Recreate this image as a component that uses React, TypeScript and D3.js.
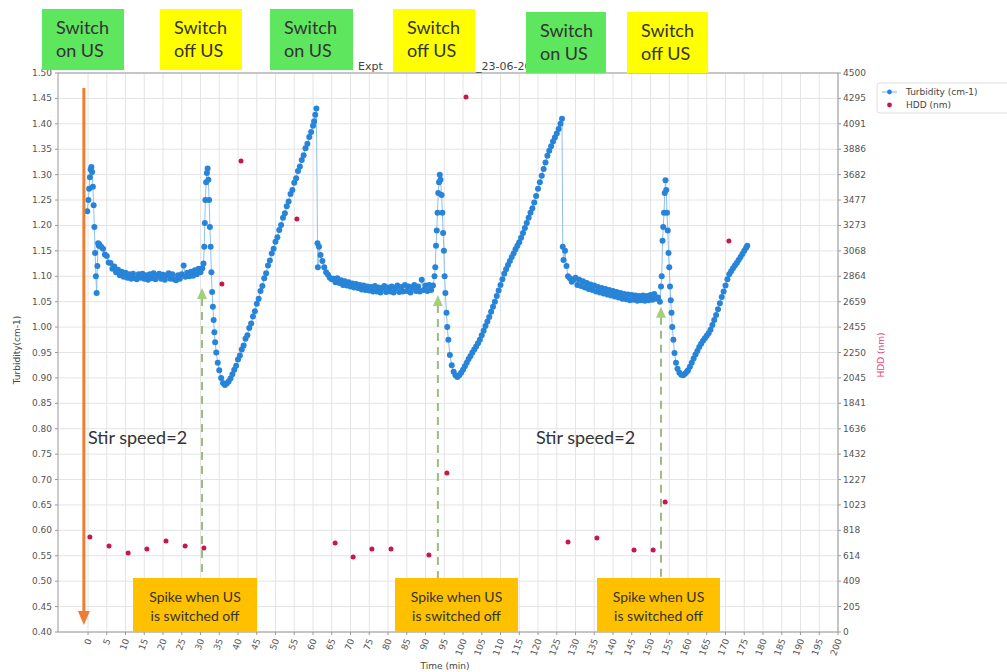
import React from 'react'
import * as d3 from 'd3'

const W = 1007
const H = 672

// Turbidity (cm-1) as [time (min), value]
const cycle1: [number, number][] = [
  [-0.2, 1.228], [0.1, 1.25], [0.3, 1.272], [0.5, 1.295], [0.7, 1.31], [0.9, 1.315], [1.1, 1.305],
  [1.3, 1.276], [1.5, 1.24], [1.7, 1.197], [1.9, 1.146], [2.1, 1.1], [2.3, 1.067], [2.5, 1.12],
  [2.7, 1.165], [2.9, 1.16],
  [3.0, 1.163], [3.5, 1.158], [4.0, 1.154], [4.5, 1.143], [5.0, 1.14], [5.5, 1.127], [6.0, 1.126],
  [6.5, 1.115], [7.0, 1.119], [7.5, 1.108], [8.0, 1.113], [8.5, 1.102], [9.0, 1.109], [9.5, 1.099],
  [10.0, 1.107], [10.5, 1.097], [11.0, 1.104], [11.5, 1.095], [12.0, 1.105], [12.5, 1.096], [13.0, 1.094],
  [13.5, 1.104], [14.0, 1.097], [14.5, 1.105], [15.0, 1.095], [15.5, 1.102], [16.0, 1.093], [16.5, 1.104],
  [17.0, 1.096], [17.5, 1.106], [18.0, 1.094], [18.5, 1.102], [19.0, 1.105], [19.5, 1.095], [20.0, 1.103],
  [20.5, 1.093], [21.0, 1.102], [21.5, 1.106], [22.0, 1.095], [22.5, 1.104], [23.0, 1.094], [23.5, 1.092],
  [24.0, 1.102], [24.5, 1.095], [25.0, 1.104], [25.5, 1.121], [26.0, 1.099], [26.5, 1.107], [27.0, 1.1],
  [27.5, 1.109], [28.0, 1.101], [28.5, 1.112], [29.0, 1.104], [29.5, 1.115], [30.0, 1.108], [30.5, 1.116],
  [30.8, 1.125], [31.0, 1.158], [31.15, 1.205], [31.3, 1.25], [31.5, 1.285], [31.7, 1.303], [31.9, 1.312],
  [32.1, 1.29], [32.3, 1.25], [32.5, 1.197], [32.7, 1.158], [32.9, 1.108], [33.1, 1.069], [33.3, 1.04],
  [33.5, 1.014], [33.7, 0.99], [33.9, 0.97], [34.2, 0.95], [34.6, 0.93], [35.0, 0.915], [35.5, 0.9],
  [36.0, 0.89], [36.5, 0.886],
  [37, 0.889], [37.5, 0.893], [38, 0.899], [38.5, 0.907], [39, 0.916], [39.5, 0.924], [40, 0.936],
  [40.5, 0.944], [41, 0.956], [41.5, 0.964], [42, 0.977], [42.5, 0.984], [43, 0.998], [43.5, 1.007],
  [44, 1.021], [44.5, 1.031], [45, 1.046], [45.5, 1.056], [46, 1.071], [46.5, 1.081], [47, 1.096],
  [47.5, 1.106], [48, 1.121], [48.5, 1.131], [49, 1.145], [49.5, 1.154], [50, 1.168], [50.5, 1.177],
  [51, 1.191], [51.5, 1.201], [52, 1.215], [52.5, 1.224], [53, 1.238], [53.5, 1.247], [54, 1.262],
  [54.5, 1.27], [55, 1.284], [55.5, 1.293], [56, 1.307], [56.5, 1.316], [57, 1.329], [57.5, 1.338],
  [58, 1.352], [58.5, 1.361], [59, 1.374], [59.5, 1.384], [60, 1.396], [60.3, 1.405], [60.6, 1.418],
  [60.9, 1.43],
]

const cycle2: [number, number][] = [
  [61.2, 1.165], [61.3, 1.118], [61.6, 1.158], [62.0, 1.142], [62.5, 1.13], [63.0, 1.118], [63.5, 1.108],
  [64.0, 1.103], [64.5, 1.097], [65.0, 1.094],
  [65.5, 1.095], [66, 1.088], [66.5, 1.096], [67, 1.087], [67.5, 1.092], [68, 1.083], [68.5, 1.09],
  [69, 1.082], [69.5, 1.088], [70, 1.08], [70.5, 1.086], [71, 1.078], [71.5, 1.085], [72, 1.077],
  [72.5, 1.083], [73, 1.074], [73.5, 1.082], [74, 1.073], [74.5, 1.08], [75, 1.072], [75.5, 1.079],
  [76, 1.07], [76.5, 1.081], [77, 1.07], [77.5, 1.078], [78, 1.068], [78.5, 1.077], [79, 1.081],
  [79.5, 1.069], [80, 1.078], [80.5, 1.07], [81, 1.08], [81.5, 1.068], [82, 1.077], [82.5, 1.082],
  [83, 1.069], [83.5, 1.079], [84, 1.07], [84.5, 1.083], [85, 1.071], [85.5, 1.08], [86, 1.068],
  [86.5, 1.078], [87, 1.083], [87.5, 1.071], [88, 1.08], [88.5, 1.07], [89, 1.093], [89.5, 1.073],
  [90, 1.082], [90.5, 1.071], [91, 1.083], [91.5, 1.073], [92, 1.082],
  [92.4, 1.1], [92.6, 1.118], [92.8, 1.16], [93.0, 1.19], [93.2, 1.225], [93.4, 1.264], [93.6, 1.285],
  [93.8, 1.3], [94.0, 1.29], [94.3, 1.26], [94.5, 1.225], [94.7, 1.185], [94.9, 1.15], [95.1, 1.1],
  [95.3, 1.067], [95.6, 1.028], [95.8, 1.0], [96.1, 0.975], [96.5, 0.945], [97.0, 0.925], [97.5, 0.912],
  [98.0, 0.905],
  [98.5, 0.902], [99, 0.905], [99.5, 0.91], [100, 0.916], [100.5, 0.923], [101, 0.93], [101.5, 0.937],
  [102, 0.943], [102.5, 0.95], [103, 0.956], [103.5, 0.962], [104, 0.968], [104.5, 0.975], [105, 0.984],
  [105.5, 0.993], [106, 1.002], [106.5, 1.011], [107, 1.02], [107.5, 1.03], [108, 1.04], [108.5, 1.05],
  [109, 1.061], [109.5, 1.072], [110, 1.083], [110.5, 1.094], [111, 1.105], [111.5, 1.114], [112, 1.122],
  [112.5, 1.13], [113, 1.138], [113.5, 1.145], [114, 1.153], [114.5, 1.16], [115, 1.167], [115.5, 1.176],
  [116, 1.185], [116.5, 1.195], [117, 1.205], [117.5, 1.215], [118, 1.225], [118.5, 1.234], [119, 1.245],
  [119.5, 1.258], [120, 1.272], [120.5, 1.285], [121, 1.298], [121.5, 1.311], [122, 1.324], [122.5, 1.337],
  [123, 1.347], [123.5, 1.356], [124, 1.365], [124.5, 1.373], [125, 1.381], [125.5, 1.39], [126, 1.4],
  [126.4, 1.41],
]

const cycle3: [number, number][] = [
  [126.6, 1.158], [126.8, 1.132], [127.2, 1.15], [127.6, 1.12], [128, 1.1], [128.5, 1.096], [129, 1.089],
  [129.5, 1.093], [130, 1.097], [130.5, 1.083], [131, 1.093], [131.5, 1.081], [132, 1.09], [132.5, 1.078],
  [133, 1.087], [133.5, 1.075], [134, 1.084], [134.5, 1.073], [135, 1.082], [135.5, 1.07], [136, 1.079],
  [136.5, 1.068], [137, 1.077], [137.5, 1.066], [138, 1.075], [138.5, 1.064], [139, 1.073], [139.5, 1.062],
  [140, 1.071], [140.5, 1.06], [141, 1.069], [141.5, 1.058], [142, 1.067], [142.5, 1.056], [143, 1.065],
  [143.5, 1.055], [144, 1.064], [144.5, 1.053], [145, 1.063], [145.5, 1.054], [146, 1.062], [146.5, 1.052],
  [147, 1.061], [147.5, 1.053], [148, 1.062], [148.5, 1.052], [149, 1.061], [149.5, 1.053], [150, 1.063],
  [150.5, 1.054], [151, 1.065], [151.5, 1.056], [152, 1.058], [152.5, 1.05],
  [152.8, 1.08], [153.0, 1.1], [153.2, 1.17], [153.4, 1.197], [153.6, 1.225], [153.8, 1.264], [154.0, 1.289],
  [154.2, 1.27], [154.4, 1.225], [154.6, 1.19], [154.8, 1.146], [155.0, 1.118], [155.2, 1.08], [155.4, 1.053],
  [155.6, 1.028], [155.8, 1.0], [156.1, 0.975], [156.4, 0.949], [156.8, 0.93], [157.2, 0.918], [157.7, 0.91],
  [158.2, 0.906], [158.7, 0.905], [159.2, 0.908], [159.7, 0.912],
  [160, 0.915], [160.5, 0.922], [161, 0.93], [161.5, 0.938], [162, 0.946], [162.5, 0.953], [163, 0.961],
  [163.5, 0.967], [164, 0.973], [164.5, 0.978], [165, 0.983], [165.5, 0.988], [166, 0.995], [166.5, 1.004],
  [167, 1.014], [167.5, 1.024], [168, 1.035], [168.5, 1.047], [169, 1.059], [169.5, 1.07], [170, 1.082],
  [170.5, 1.094], [171, 1.104], [171.5, 1.11], [172, 1.116], [172.5, 1.121], [173, 1.126], [173.5, 1.132],
  [174, 1.138], [174.5, 1.144], [175, 1.15], [175.5, 1.156], [175.8, 1.16],
]

// HDD (nm)
const hddTime = [0.5, 5.6, 10.7, 15.7, 20.8, 25.9, 30.9, 35.7, 40.8, 55.7, 65.9, 70.7, 75.7, 80.8, 90.9, 95.7, 100.8, 128.0, 135.7, 145.6, 150.7, 153.9, 170.9]
const hddValue = [765, 692, 636, 668, 733, 692, 676, 2801, 3792, 3325, 717, 604, 668, 668, 620, 1280, 4307, 724, 757, 660, 660, 1046, 3148]

const turbTicks = [0.4, 0.45, 0.5, 0.55, 0.6, 0.65, 0.7, 0.75, 0.8, 0.85, 0.9, 0.95, 1.0, 1.05, 1.1, 1.15, 1.2, 1.25, 1.3, 1.35, 1.4, 1.45, 1.5]
const hddTickLabels = ['0', '205', '409', '614', '818', '1023', '1227', '1432', '1636', '1841', '2045', '2250', '2455', '2659', '2864', '3068', '3273', '3477', '3682', '3886', '4091', '4295', '4500']
const timeTicks = [0, 5, 10, 15, 20, 25, 30, 35, 40, 45, 50, 55, 60, 65, 70, 75, 80, 85, 90, 95, 100, 105, 110, 115, 120, 125, 130, 135, 140, 145, 150, 155, 160, 165, 170, 175, 180, 185, 190, 195, 200]

// annotations
const switchTimes = [30.4, 93.3, 152.8]
const switchTips = [1.077, 1.063, 1.04]
const topNotes = [
  { x0: 42, x1: 124, y0: 9, y1: 70, fill: '#5ee65e', lines: ['Switch', 'on US'] },
  { x0: 160, x1: 242, y0: 9, y1: 70, fill: '#ffff00', lines: ['Switch', 'off US'] },
  { x0: 270, x1: 353, y0: 9, y1: 70, fill: '#5ee65e', lines: ['Switch', 'on US'] },
  { x0: 393, x1: 475, y0: 9, y1: 72, fill: '#ffff00', lines: ['Switch', 'off US'] },
  { x0: 526, x1: 606, y0: 12, y1: 73, fill: '#5ee65e', lines: ['Switch', 'on US'] },
  { x0: 627, x1: 708, y0: 12, y1: 73, fill: '#ffff00', lines: ['Switch', 'off US'] },
]
const spikeNotes = [
  { x0: 133, x1: 257 },
  { x0: 395, x1: 518 },
  { x0: 597, x1: 720 },
]

const BLUE = '#2784d8'
const RED = '#c8174a'
const GRID = '#e4e4e4'
const AXIS = '#9a9a9a'
const TICKFONT = 'DejaVu Sans, sans-serif'
const NOTEFONT = 'Lato, sans-serif'

export default function App() {
  const left = 58
  const right = 838
  const top = 73
  const bottom = 632

  const x = d3.scaleLinear().domain([-8, 200]).range([left, right])
  const yL = d3.scaleLinear().domain([0.4, 1.5]).range([bottom, top])
  const yR = d3.scaleLinear().domain([0, 4500]).range([bottom, top])

  const turb = [...cycle1, ...cycle2, ...cycle3]
  const line = d3.line<[number, number]>().x(d => x(d[0])).y(d => yL(d[1]))

  const orangeX = x(-1.1)

  return (
    <svg width={W} height={H} style={{ position: 'absolute', left: 0, top: 0, background: '#fff' }}>
      <rect width={W} height={H} fill="#fff" />

      {/* grid */}
      {timeTicks.map(t => (
        <line key={'gx' + t} x1={x(t)} x2={x(t)} y1={top} y2={bottom} stroke={GRID} strokeWidth={1} />
      ))}
      {turbTicks.map(v => (
        <line key={'gy' + v} x1={left} x2={right} y1={yL(v)} y2={yL(v)} stroke={GRID} strokeWidth={1} />
      ))}

      {/* spines */}
      <rect x={left} y={top} width={right - left} height={bottom - top} fill="none" stroke={AXIS} strokeWidth={1} />

      {/* left axis */}
      {turbTicks.map(v => (
        <g key={'ly' + v}>
          <line x1={left - 3} x2={left} y1={yL(v)} y2={yL(v)} stroke={AXIS} />
          <text x={left - 6} y={yL(v) + 3} textAnchor="end" fontSize={9} fontFamily={TICKFONT} fill="#555">{v.toFixed(2)}</text>
        </g>
      ))}
      {/* right axis */}
      {hddTickLabels.map((lab, i) => {
        const yy = yR((4500 / 22) * i)
        return (
          <g key={'ry' + i}>
            <line x1={right} x2={right + 3} y1={yy} y2={yy} stroke={AXIS} />
            <text x={right + 5} y={yy + 3} fontSize={9} fontFamily={TICKFONT} fill="#555">{lab}</text>
          </g>
        )
      })}
      {/* bottom axis */}
      {timeTicks.map(t => (
        <g key={'bx' + t}>
          <line x1={x(t)} x2={x(t)} y1={bottom} y2={bottom + 3} stroke={AXIS} />
          <text transform={`translate(${x(t) + 4},${bottom + 8}) rotate(-70)`} textAnchor="end" fontSize={9} fontFamily={TICKFONT} fill="#555">{t}</text>
        </g>
      ))}

      {/* axis labels and title */}
      <text transform={`translate(20,350) rotate(-90)`} textAnchor="middle" fontSize={9} fontFamily={TICKFONT} fill="#444">Turbidity(cm-1)</text>
      <text transform={`translate(884,355) rotate(-90)`} textAnchor="middle" fontSize={9} fontFamily={TICKFONT} fill="#e0457a">HDD (nm)</text>
      <text x={445} y={669} textAnchor="middle" fontSize={9} fontFamily={TICKFONT} fill="#444">Time (min)</text>
      <text x={358} y={70} fontSize={11} fontFamily={TICKFONT} fill="#444">Expt</text>
      <text x={476} y={70} fontSize={11} fontFamily={TICKFONT} fill="#444">_23-06-2023</text>

      {/* turbidity series */}
      <path d={line(turb) || ''} fill="none" stroke="#8ec0ee" strokeWidth={1} />
      {turb.map((d, i) => (
        <circle key={'t' + i} cx={x(d[0])} cy={yL(d[1])} r={3} fill={BLUE} />
      ))}

      {/* HDD series */}
      {hddTime.map((t, i) => (
        <circle key={'h' + i} cx={x(t)} cy={yR(hddValue[i])} r={2.5} fill={RED} />
      ))}

      {/* orange arrow */}
      <line x1={orangeX} x2={orangeX} y1={88} y2={612} stroke="#ed7d31" strokeWidth={3} />
      <path d={`M${orangeX - 6},${611} L${orangeX + 6},${611} L${orangeX},${625} Z`} fill="#ed7d31" />

      {/* green dashed arrows */}
      {switchTimes.map((t, i) => {
        const ax = x(t)
        const tip = yL(switchTips[i])
        return (
          <g key={'ga' + i}>
            <line x1={ax} x2={ax} y1={tip + 10} y2={bottom} stroke="#9dbb83" strokeWidth={2} strokeDasharray="8,6" />
            <path d={`M${ax - 5},${tip + 11} L${ax + 5},${tip + 11} L${ax},${tip} Z`} fill="#a4d07a" />
          </g>
        )
      })}

      {/* Stir speed notes */}
      <text x={88} y={444} fontSize={18} fontFamily={NOTEFONT} fill="#333">Stir speed=2</text>
      <text x={536} y={444} fontSize={18} fontFamily={NOTEFONT} fill="#333">Stir speed=2</text>

      {/* spike notes */}
      {spikeNotes.map((n, i) => (
        <g key={'sn' + i}>
          <rect x={n.x0} y={578} width={n.x1 - n.x0} height={bottom - 578} fill="#ffc000" />
          <text x={(n.x0 + n.x1) / 2} y={602} textAnchor="middle" fontSize={14} fontFamily={NOTEFONT} fill="#333">Spike when US</text>
          <text x={(n.x0 + n.x1) / 2} y={621} textAnchor="middle" fontSize={14} fontFamily={NOTEFONT} fill="#333">is switched off</text>
        </g>
      ))}

      {/* switch notes */}
      {topNotes.map((n, i) => (
        <g key={'tn' + i}>
          <rect x={n.x0} y={n.y0} width={n.x1 - n.x0} height={n.y1 - n.y0} fill={n.fill} />
          <text x={n.x0 + 14} y={n.y0 + 25} fontSize={18} fontFamily={NOTEFONT} fill="#333">{n.lines[0]}</text>
          <text x={n.x0 + 14} y={n.y0 + 48} fontSize={18} fontFamily={NOTEFONT} fill="#333">{n.lines[1]}</text>
        </g>
      ))}

      {/* legend */}
      <rect x={877} y={83} width={140} height={30} rx={3} fill="#fff" stroke="#dddddd" />
      <line x1={882} x2={897} y1={92} y2={92} stroke="#8ec0ee" strokeWidth={1.2} />
      <circle cx={889.5} cy={92} r={2.4} fill={BLUE} />
      <text x={906} y={95} fontSize={9} fontFamily={TICKFONT} fill="#444">Turbidity (cm-1)</text>
      <circle cx={889.5} cy={105} r={2.4} fill={RED} />
      <text x={906} y={108} fontSize={9} fontFamily={TICKFONT} fill="#444">HDD (nm)</text>
    </svg>
  )
}
